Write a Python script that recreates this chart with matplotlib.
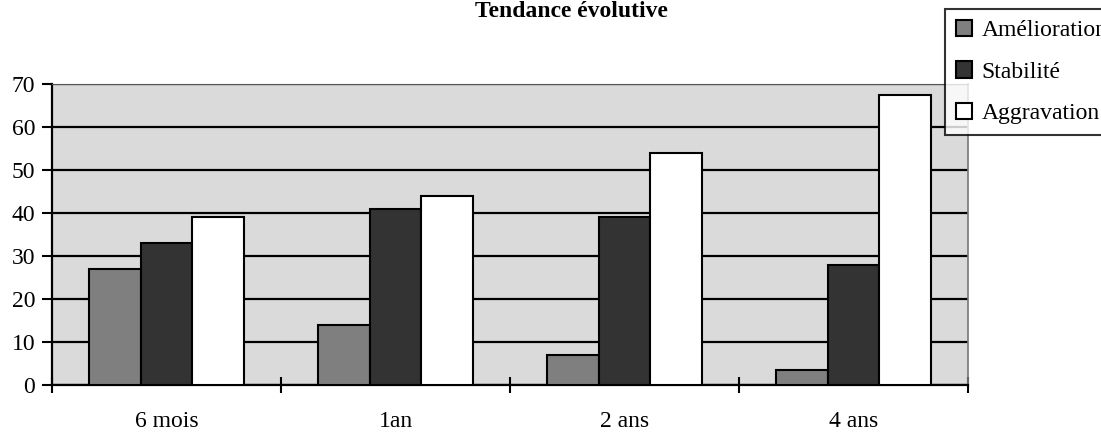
import numpy as np
import matplotlib
matplotlib.use("Agg")
import matplotlib.pyplot as plt

periods = ["6 mois", "1an", "2 ans", "4 ans"]
series = ["Amélioration", "Stabilité", "Aggravation"]
amelioration = [27, 14, 7, 3.5]
stabilite = [33, 41, 39, 28]
aggravation = [39, 44, 54, 67.5]

plt.rcParams["font.family"] = ["Liberation Serif", "DejaVu Serif"]

fig = plt.figure(figsize=(11.01, 4.32), dpi=100)
ax = fig.add_axes([52 / 1101, 1 - 385 / 432, (968 - 52) / 1101, (385 - 84) / 432])
ax.set_facecolor("#dadada")

x = np.arange(len(periods))
w = 0.227
colors = ["#7f7f7f", "#333333", "#ffffff"]
values = [amelioration, stabilite, aggravation]
for i, (name, vals) in enumerate(zip(series, values)):
    ax.bar(x + (i - 1) * w, vals, w, color=colors[i], edgecolor="black",
           linewidth=1.5, label=name, zorder=3)

ax.set_xlim(-0.5, 3.5)
ax.set_ylim(0, 70)
ax.set_yticks(range(0, 71, 10))
ax.yaxis.grid(True, color="black", linewidth=1.6, zorder=1)
ax.set_axisbelow(True)

# category labels at centres, tick marks between groups
ax.set_xticks(x)
ax.set_xticklabels(periods, fontsize=17)
ax.tick_params(axis="x", length=0, pad=19)
ax.set_xticks(np.arange(-0.5, 4, 1), minor=True)
ax.tick_params(axis="x", which="minor", direction="inout", length=12, width=1.5)
ax.tick_params(axis="y", labelsize=17, length=7, width=1.5, pad=5)

for s in ["left", "bottom"]:
    ax.spines[s].set_linewidth(1.6)
ax.spines["top"].set_color("#555555")
ax.spines["right"].set_color("#777777")
ax.spines["right"].set_linewidth(1.2)

leg = fig.legend(loc="upper left", bbox_to_anchor=(945 / 1101, 1 - 9 / 432),
                 fontsize=17, frameon=True, fancybox=False, edgecolor="black",
                 handlelength=0.7, handleheight=0.7, handletextpad=0.4,
                 labelspacing=0.85, borderpad=0.45, borderaxespad=0)
leg.get_frame().set_linewidth(1.5)

fig.text(571 / 1101, 1 - 17 / 432, "Tendance évolutive", ha="center",
         va="baseline", fontsize=17, fontweight="bold")

fig.savefig("out.png", dpi=100)
